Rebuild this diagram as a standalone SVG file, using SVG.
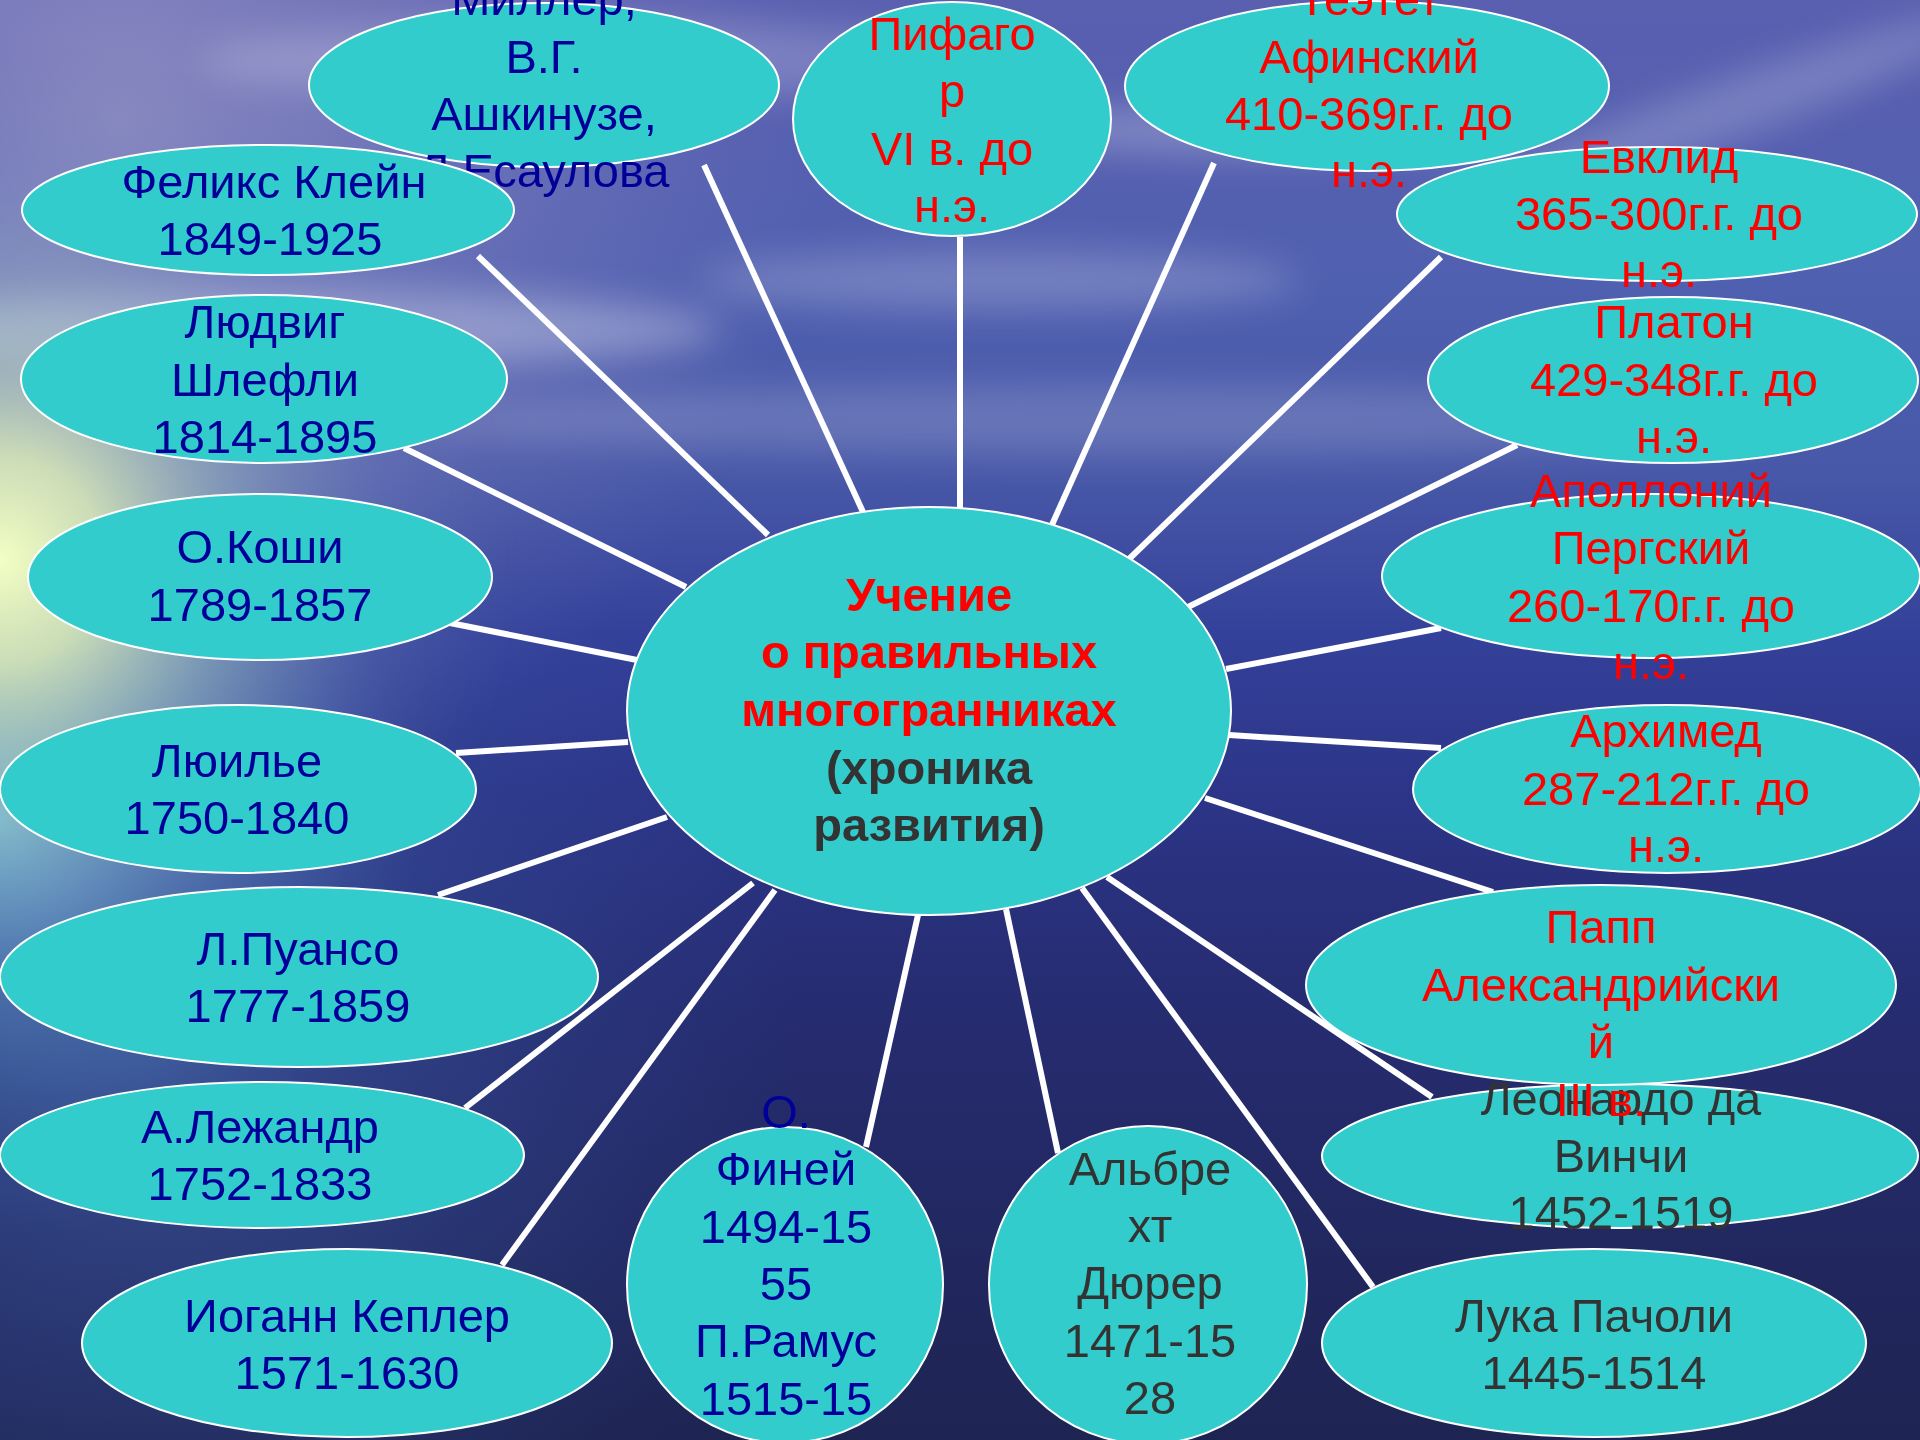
<svg xmlns="http://www.w3.org/2000/svg" width="1920" height="1440" viewBox="0 0 1920 1440">
<defs>
<linearGradient id="sky" x1="0" y1="0" x2="0" y2="1">
<stop offset="0" stop-color="#5a5fb0"/>
<stop offset="0.2" stop-color="#5060b0"/>
<stop offset="0.33" stop-color="#4858a8"/>
<stop offset="0.44" stop-color="#34419a"/>
<stop offset="0.55" stop-color="#2c3588"/>
<stop offset="0.7" stop-color="#262c70"/>
<stop offset="1" stop-color="#1e2452"/>
</linearGradient>
<radialGradient id="sun" cx="0" cy="560" r="520" gradientUnits="userSpaceOnUse">
<stop offset="0" stop-color="#f4ffc4" stop-opacity="1"/>
<stop offset="0.2" stop-color="#e0f0b8" stop-opacity="0.85"/>
<stop offset="0.45" stop-color="#a8c8c0" stop-opacity="0.5"/>
<stop offset="0.75" stop-color="#7a8cc0" stop-opacity="0.18"/>
<stop offset="1" stop-color="#6070b0" stop-opacity="0"/>
</radialGradient>
<radialGradient id="cyan" cx="0" cy="820" r="420" gradientUnits="userSpaceOnUse">
<stop offset="0" stop-color="#80e0e8" stop-opacity="0.75"/>
<stop offset="0.4" stop-color="#60a8d0" stop-opacity="0.4"/>
<stop offset="1" stop-color="#4070b0" stop-opacity="0"/>
</radialGradient>
<radialGradient id="tl" cx="120" cy="120" r="700" gradientUnits="userSpaceOnUse">
<stop offset="0" stop-color="#a09cc8" stop-opacity="0.7"/>
<stop offset="1" stop-color="#8080c0" stop-opacity="0"/>
</radialGradient>
<radialGradient id="sea" cx="150" cy="1050" r="650" gradientUnits="userSpaceOnUse">
<stop offset="0" stop-color="#4a6ab0" stop-opacity="0.55"/>
<stop offset="1" stop-color="#3050a0" stop-opacity="0"/>
</radialGradient>
<filter id="blur" x="-50%" y="-50%" width="200%" height="200%"><feGaussianBlur stdDeviation="18"/></filter>
<style>
.n{fill:#33CCCC;stroke:#FFFFFF;stroke-width:2}
.c line{stroke:#FFFFFF;stroke-width:6}
text{font-family:"Liberation Sans",Arial,sans-serif;font-size:47px;text-anchor:middle}
.b{fill:#000099}
.r{fill:#FF0000}
.g{fill:#333333}
.bold{font-weight:bold}
</style>
</defs>
<g id="background">
<rect width="1920" height="1440" fill="url(#sky)"/>
<rect width="1920" height="1440" fill="url(#tl)"/>
<rect width="1920" height="1440" fill="url(#sea)"/>
<g filter="url(#blur)" fill="#ffffff">
<ellipse cx="300" cy="330" rx="420" ry="40" opacity="0.3"/>
<ellipse cx="1000" cy="280" rx="300" ry="30" opacity="0.2"/>
<ellipse cx="1250" cy="130" rx="250" ry="25" opacity="0.25"/>
<ellipse cx="1700" cy="120" rx="300" ry="30" opacity="0.2" transform="rotate(-20 1700 120)"/>
<ellipse cx="1100" cy="420" rx="700" ry="35" opacity="0.16"/>
<ellipse cx="600" cy="60" rx="400" ry="40" opacity="0.2"/>
</g>
<rect width="1920" height="1440" fill="url(#cyan)"/>
<rect width="1920" height="1440" fill="url(#sun)"/>
</g>
<g id="connectors" class="c">
<line x1="478" y1="256" x2="768" y2="535"/>
<line x1="704" y1="165" x2="863" y2="512"/>
<line x1="960" y1="237" x2="960" y2="508"/>
<line x1="1214" y1="163" x2="1051" y2="527"/>
<line x1="1441" y1="257" x2="1127" y2="561"/>
<line x1="1517" y1="445" x2="1188" y2="607"/>
<line x1="1441" y1="628" x2="1226" y2="669"/>
<line x1="1441" y1="748" x2="1229" y2="735"/>
<line x1="1493" y1="892" x2="1205" y2="798"/>
<line x1="1432" y1="1097" x2="1107" y2="877"/>
<line x1="1373" y1="1287" x2="1082" y2="888"/>
<line x1="1058" y1="1153" x2="1006" y2="909"/>
<line x1="866" y1="1147" x2="918" y2="915"/>
<line x1="502" y1="1265" x2="775" y2="890"/>
<line x1="465" y1="1108" x2="753" y2="883"/>
<line x1="438" y1="895" x2="667" y2="817"/>
<line x1="456" y1="753" x2="628" y2="742"/>
<line x1="450" y1="623" x2="637" y2="660"/>
<line x1="404" y1="448" x2="686" y2="587"/>
</g>
<g id="center">
<ellipse class="n" cx="929" cy="711" rx="302" ry="204"/>
<text class="r bold" x="929" y="611">Учение</text>
<text class="r bold" x="929" y="668">о правильных</text>
<text class="r bold" x="929" y="726">многогранниках</text>
<text class="g bold" x="929" y="784">(хроника</text>
<text class="g bold" x="929" y="841">развития)</text>
</g>
<g id="miller">
<ellipse class="n" cx="544" cy="85" rx="235" ry="82"/>
<text class="b" x="544" y="15">Миллер,</text>
<text class="b" x="544" y="73">В.Г.</text>
<text class="b" x="544" y="130">Ашкинузе,</text>
<text class="b" x="544" y="187">Л.Есаулова</text>
</g>
<g id="klein">
<ellipse class="n" cx="268" cy="210" rx="246" ry="65"/>
<text class="b" x="274" y="198">Феликс Клейн</text>
<text class="b" x="270" y="255">1849-1925</text>
</g>
<g id="schlafli">
<ellipse class="n" cx="264" cy="379" rx="243" ry="84"/>
<text class="b" x="265" y="338">Людвиг</text>
<text class="b" x="265" y="396">Шлефли</text>
<text class="b" x="265" y="453">1814-1895</text>
</g>
<g id="cauchy">
<ellipse class="n" cx="260" cy="577" rx="232" ry="83"/>
<text class="b" x="260" y="563">О.Коши</text>
<text class="b" x="260" y="621">1789-1857</text>
</g>
<g id="lhuilier">
<ellipse class="n" cx="238" cy="789" rx="238" ry="84"/>
<text class="b" x="237" y="777">Люилье</text>
<text class="b" x="237" y="834">1750-1840</text>
</g>
<g id="poinsot">
<ellipse class="n" cx="299" cy="977" rx="299" ry="90"/>
<text class="b" x="298" y="965">Л.Пуансо</text>
<text class="b" x="298" y="1022">1777-1859</text>
</g>
<g id="legendre">
<ellipse class="n" cx="262" cy="1155" rx="262" ry="73"/>
<text class="b" x="260" y="1143">А.Лежандр</text>
<text class="b" x="260" y="1200">1752-1833</text>
</g>
<g id="kepler">
<ellipse class="n" cx="347" cy="1343" rx="265" ry="94"/>
<text class="b" x="347" y="1332">Иоганн Кеплер</text>
<text class="b" x="347" y="1389">1571-1630</text>
</g>
<g id="fine">
<ellipse class="n" cx="785" cy="1285" rx="158" ry="158"/>
<text class="b" x="786" y="1128">О.</text>
<text class="b" x="786" y="1185">Финей</text>
<text class="b" x="786" y="1243">1494-15</text>
<text class="b" x="786" y="1300">55</text>
<text class="b" x="786" y="1357">П.Рамус</text>
<text class="b" x="786" y="1415">1515-15</text>
</g>
<g id="durer">
<ellipse class="n" cx="1148" cy="1285" rx="159" ry="159"/>
<text class="g" x="1150" y="1185">Альбре</text>
<text class="g" x="1150" y="1242">хт</text>
<text class="g" x="1150" y="1299">Дюрер</text>
<text class="g" x="1150" y="1357">1471-15</text>
<text class="g" x="1150" y="1414">28</text>
</g>
<g id="pacioli">
<ellipse class="n" cx="1594" cy="1343" rx="272" ry="94"/>
<text class="g" x="1594" y="1332">Лука Пачоли</text>
<text class="g" x="1594" y="1389">1445-1514</text>
</g>
<g id="leonardo">
<ellipse class="n" cx="1620" cy="1156" rx="298" ry="72"/>
<text class="g" x="1621" y="1115">Леонардо да</text>
<text class="g" x="1621" y="1172">Винчи</text>
<text class="g" x="1621" y="1229">1452-1519</text>
</g>
<g id="pappus">
<ellipse class="n" cx="1601" cy="985" rx="295" ry="100"/>
<text class="r" x="1601" y="943">Папп</text>
<text class="r" x="1601" y="1001">Александрийски</text>
<text class="r" x="1601" y="1058">й</text>
<text class="r" x="1601" y="1116">III в.</text>
</g>
<g id="archimedes">
<ellipse class="n" cx="1667" cy="789" rx="254" ry="84"/>
<text class="r" x="1666" y="747">Архимед</text>
<text class="r" x="1666" y="805">287-212г.г. до</text>
<text class="r" x="1666" y="862">н.э.</text>
</g>
<g id="apollonius">
<ellipse class="n" cx="1651" cy="576" rx="269" ry="82"/>
<text class="r" x="1651" y="507">Аполлоний</text>
<text class="r" x="1651" y="564">Пергский</text>
<text class="r" x="1651" y="622">260-170г.г. до</text>
<text class="r" x="1651" y="679">н.э.</text>
</g>
<g id="plato">
<ellipse class="n" cx="1673" cy="380" rx="245" ry="83"/>
<text class="r" x="1674" y="338">Платон</text>
<text class="r" x="1674" y="396">429-348г.г. до</text>
<text class="r" x="1674" y="453">н.э.</text>
</g>
<g id="euclid">
<ellipse class="n" cx="1657" cy="214" rx="260" ry="67"/>
<text class="r" x="1659" y="173">Евклид</text>
<text class="r" x="1659" y="230">365-300г.г. до</text>
<text class="r" x="1659" y="287">н.э.</text>
</g>
<g id="theaetetus">
<ellipse class="n" cx="1367" cy="86" rx="242" ry="85"/>
<text class="r" x="1369" y="15">Теэтет</text>
<text class="r" x="1369" y="73">Афинский</text>
<text class="r" x="1369" y="130">410-369г.г. до</text>
<text class="r" x="1369" y="187">н.э.</text>
</g>
<g id="pythagoras">
<ellipse class="n" cx="952" cy="119" rx="159" ry="117"/>
<text class="r" x="952" y="50">Пифаго</text>
<text class="r" x="952" y="107">р</text>
<text class="r" x="952" y="165">VI в. до</text>
<text class="r" x="952" y="222">н.э.</text>
</g>
</svg>
